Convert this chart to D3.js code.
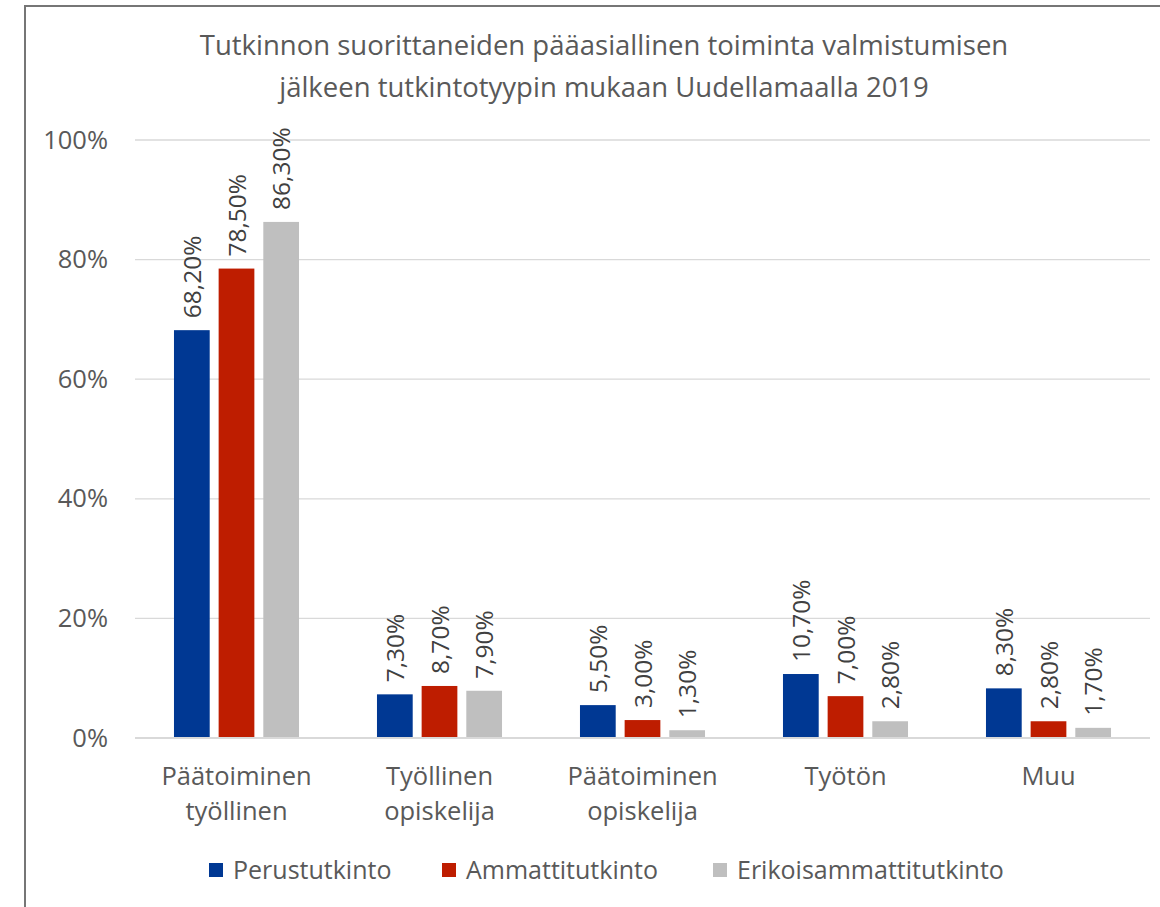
<!DOCTYPE html>
<html>
<head>
<meta charset="utf-8">
<script src="https://cdn.jsdelivr.net/npm/d3@7"></script>
<style>
  html, body { margin: 0; padding: 0; background: #fff; }
  svg { display: block; }
  text { font-family: "Open Sans", "Noto Sans", sans-serif; fill: #595959; }
</style>
</head>
<body>
<svg id="chart" width="1160" height="907"></svg>
<script>
const titleLines = ["Tutkinnon suorittaneiden pääasiallinen toiminta valmistumisen",
                    "jälkeen tutkintotyypin mukaan Uudellamaalla 2019"];
const categories = ["Päätoiminen työllinen", "Työllinen opiskelija", "Päätoiminen opiskelija", "Työtön", "Muu"];
const categoryLines = [["Päätoiminen", "työllinen"], ["Työllinen", "opiskelija"], ["Päätoiminen", "opiskelija"], ["Työtön"], ["Muu"]];
const seriesNames = ["Perustutkinto", "Ammattitutkinto", "Erikoisammattitutkinto"];
const perustutkinto = [68.2, 7.3, 5.5, 10.7, 8.3];
const ammattitutkinto = [78.5, 8.7, 3.0, 7.0, 2.8];
const erikoisammattitutkinto = [86.3, 7.9, 1.3, 2.8, 1.7];
const yTicks = [0, 20, 40, 60, 80, 100];
const colors = ["#003893", "#BE1D00", "#BFBFBF"];

const seriesValues = [perustutkinto, ammattitutkinto, erikoisammattitutkinto];

const svg = d3.select("#chart");

// outer frame
svg.append("rect")
  .attr("x", 25).attr("y", 6)
  .attr("width", 1160).attr("height", 920)
  .attr("fill", "none").attr("stroke", "#767676").attr("stroke-width", 2);

// title
svg.append("g").selectAll("text").data(titleLines).join("text")
  .attr("x", 604).attr("y", (d, i) => 55 + i * 42)
  .attr("text-anchor", "middle")
  .style("font-size", "27.5px")
  .text(d => d);

const plotLeft = 135, plotRight = 1150, plotTop = 140, plotBottom = 738;

const y = d3.scaleLinear().domain([0, 100]).range([plotBottom, plotTop]);
const x0 = d3.scaleBand().domain(categories).range([plotLeft, plotRight])
  .paddingInner(0.384).paddingOuter(0.192);
const x1 = d3.scaleBand().domain(seriesNames).range([0, x0.bandwidth()]).paddingInner(0.2);

// gridlines
svg.append("g").selectAll("line").data(yTicks.filter(t => t > 0)).join("line")
  .attr("x1", plotLeft).attr("x2", plotRight)
  .attr("y1", d => y(d)).attr("y2", d => y(d))
  .attr("stroke", "#d9d9d9").attr("stroke-width", 1.3);

// y axis labels
const yAxis = d3.axisLeft(y).tickValues(yTicks).tickSize(0).tickPadding(27)
  .tickFormat(d => d + "%");
const yg = svg.append("g").attr("transform", `translate(${plotLeft},0)`).call(yAxis);
yg.select(".domain").remove();
yg.selectAll("text").style("font-size", "25.5px").style("font-family", '"Open Sans", sans-serif').attr("fill", "#595959");

// bars
const rows = categories.map((c, ci) => ({
  cat: c,
  vals: seriesNames.map((s, si) => ({ s, si, v: seriesValues[si][ci] }))
}));

const groups = svg.append("g").selectAll("g").data(rows).join("g")
  .attr("transform", d => `translate(${x0(d.cat)},0)`);

groups.selectAll("rect").data(d => d.vals).join("rect")
  .attr("x", d => x1(d.s))
  .attr("width", x1.bandwidth())
  .attr("y", d => y(d.v))
  .attr("height", d => y(0) - y(d.v))
  .attr("fill", d => colors[d.si]);

const fmt = v => v.toFixed(2).replace(".", ",") + "%";
groups.selectAll("text.lbl").data(d => d.vals).join("text")
  .attr("class", "lbl")
  .attr("transform", d => `translate(${x1(d.s) + x1.bandwidth() / 2 + 9},${y(d.v) - 12}) rotate(-90)`)
  .attr("text-anchor", "start")
  .style("font-size", "24.5px")
  .style("fill", "#404040")
  .text(d => fmt(d.v));

// baseline
svg.append("line")
  .attr("x1", plotLeft).attr("x2", plotRight)
  .attr("y1", y(0)).attr("y2", y(0))
  .attr("stroke", "#d9d9d9").attr("stroke-width", 2);

// category labels
const cg = svg.append("g").selectAll("g").data(categories).join("g")
  .attr("transform", d => `translate(${x0(d) + x0.bandwidth() / 2},0)`);
cg.selectAll("text").data((d, i) => categoryLines[i]).join("text")
  .attr("x", 0).attr("y", (d, i) => 785 + i * 35)
  .attr("text-anchor", "middle")
  .style("font-size", "25.5px")
  .text(d => d);

// legend
const legendX = [209, 442, 713];
const lg = svg.append("g").selectAll("g").data(seriesNames).join("g")
  .attr("transform", (d, i) => `translate(${legendX[i]},870)`);
lg.append("rect").attr("x", 0).attr("y", -7).attr("width", 14).attr("height", 14)
  .attr("fill", (d, i) => colors[i]);
lg.append("text").attr("x", 24).attr("y", 9)
  .style("font-size", "25px")
  .text(d => d);
</script>
</body>
</html>
